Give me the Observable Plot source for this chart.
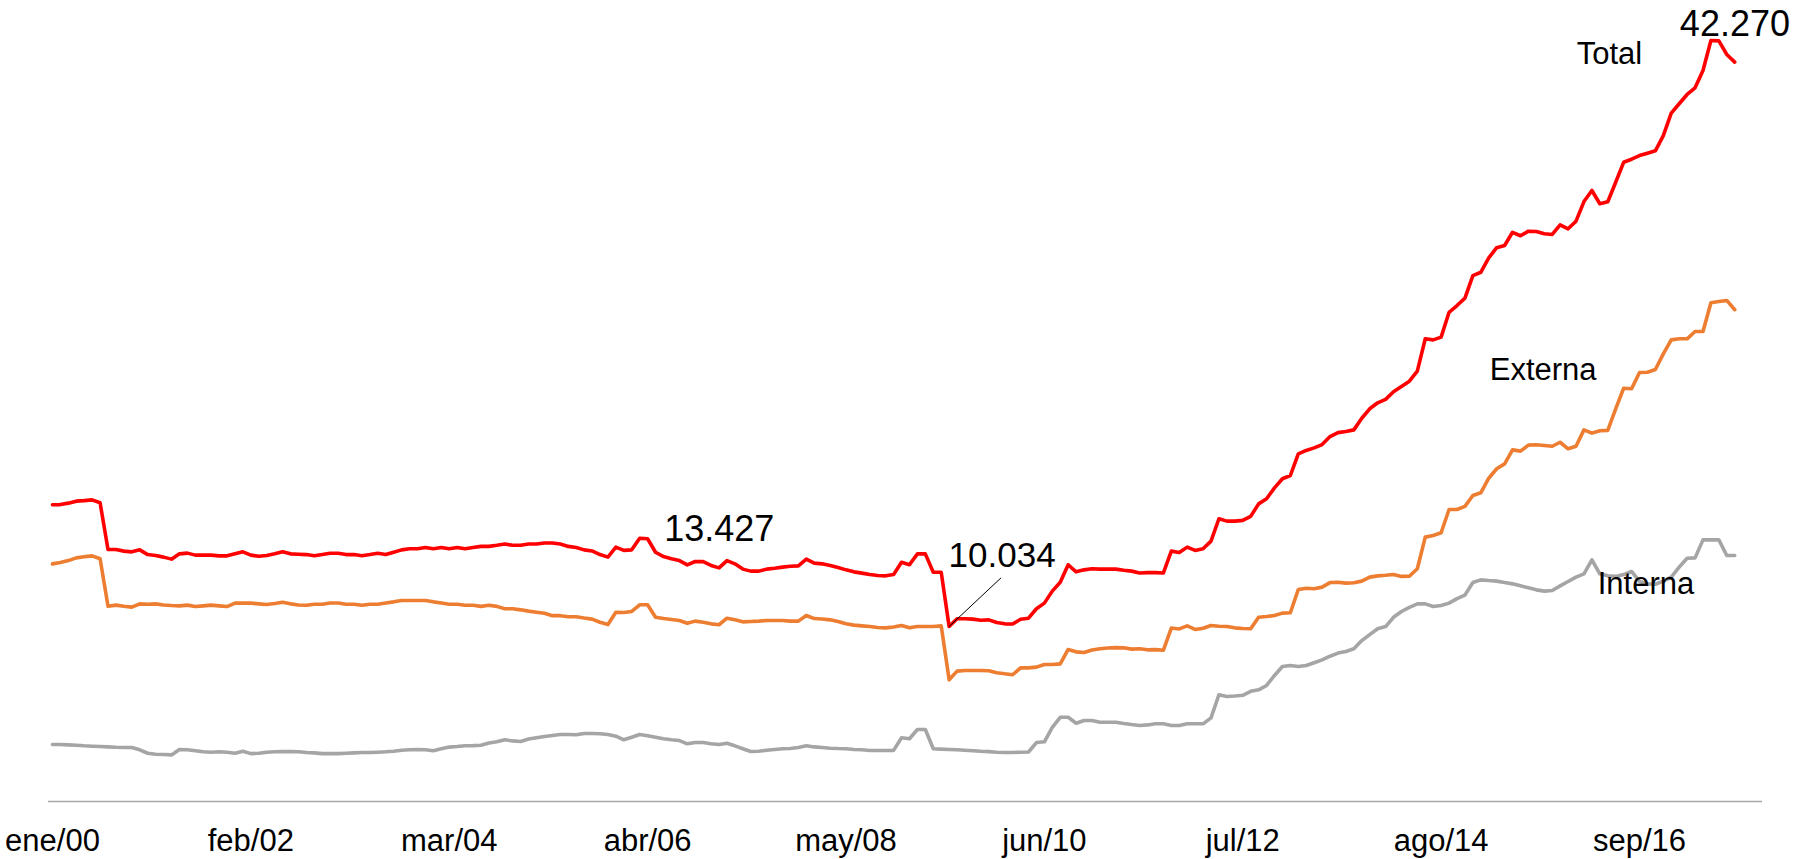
<!DOCTYPE html>
<html><head><meta charset="utf-8">
<script src="https://cdn.jsdelivr.net/npm/d3@7"></script>
<script src="https://cdn.jsdelivr.net/npm/@observablehq/plot@0.6"></script>
<style>html,body{margin:0;padding:0;background:#fff;overflow:hidden}</style>
</head><body><div id="chart"></div>
<script>
// Monthly values, ene/00 .. sep/17 (thousands of millions)
const total = [
16.73,16.74,16.82,16.93,16.96,17.00,16.84,14.27,14.27,14.18,14.14,14.25,13.99,13.94,13.85,13.74,14.03,14.07,13.96,13.96,
13.96,13.92,13.92,14.03,14.14,13.96,13.90,13.94,14.03,14.14,14.03,14.01,13.99,13.93,13.99,14.06,14.06,13.99,13.99,13.93,
13.99,14.06,13.99,14.12,14.25,14.31,14.31,14.38,14.31,14.38,14.31,14.38,14.31,14.38,14.44,14.44,14.50,14.57,14.50,14.50,
14.57,14.57,14.63,14.63,14.57,14.44,14.38,14.25,14.19,13.99,13.85,14.40,14.22,14.25,14.89,14.86,14.12,13.88,13.76,13.66,
13.427,13.61,13.60,13.39,13.26,13.66,13.48,13.19,13.08,13.08,13.19,13.24,13.30,13.35,13.37,13.74,13.52,13.48,13.39,13.28,
13.15,13.04,12.97,12.89,12.84,12.82,12.90,13.57,13.43,14.03,14.03,13.02,13.02,10.034,10.46,10.46,10.44,10.38,10.40,10.25,
10.18,10.17,10.43,10.49,11.01,11.32,11.98,12.47,13.43,13.04,13.15,13.21,13.19,13.19,13.19,13.13,13.08,12.98,13.00,13.00,
12.98,14.18,14.10,14.40,14.22,14.31,14.73,15.96,15.83,15.83,15.87,16.09,16.78,17.06,17.66,18.16,18.34,19.53,19.72,19.86,
20.04,20.48,20.70,20.76,20.85,21.49,22.01,22.34,22.53,22.95,23.24,23.53,24.08,25.86,25.80,25.95,27.32,27.69,28.10,29.34,
29.52,30.31,30.87,30.99,31.72,31.53,31.78,31.76,31.64,31.60,32.13,31.91,32.33,33.41,34.02,33.29,33.40,34.47,35.57,35.74,
35.94,36.07,36.20,37.04,38.27,38.79,39.30,39.67,40.62,42.27,42.25,41.50,41.08
];
const externa = [
13.48,13.55,13.66,13.81,13.87,13.92,13.76,11.15,11.21,11.15,11.10,11.28,11.26,11.28,11.22,11.19,11.17,11.21,11.13,11.17,
11.21,11.17,11.13,11.32,11.33,11.32,11.28,11.24,11.30,11.37,11.28,11.22,11.20,11.26,11.26,11.33,11.33,11.26,11.26,11.20,
11.26,11.26,11.33,11.39,11.46,11.46,11.46,11.46,11.39,11.33,11.26,11.26,11.20,11.20,11.14,11.20,11.14,11.01,11.01,10.95,
10.88,10.82,10.76,10.63,10.63,10.57,10.57,10.50,10.44,10.27,10.14,10.82,10.80,10.86,11.23,11.23,10.54,10.47,10.42,10.36,
10.21,10.33,10.27,10.18,10.13,10.49,10.40,10.29,10.31,10.33,10.36,10.36,10.36,10.33,10.33,10.64,10.47,10.45,10.40,10.31,
10.18,10.11,10.07,10.03,9.98,9.96,10.01,10.09,9.96,10.03,10.03,10.03,10.07,7.10,7.58,7.61,7.61,7.61,7.60,7.49,
7.43,7.38,7.76,7.76,7.80,7.94,7.94,7.98,8.77,8.64,8.60,8.74,8.81,8.85,8.87,8.86,8.79,8.81,8.75,8.76,
8.73,9.95,9.90,10.07,9.87,9.94,10.09,10.05,10.03,9.96,9.92,9.91,10.54,10.58,10.64,10.77,10.79,12.07,12.14,12.11,
12.20,12.45,12.47,12.42,12.44,12.53,12.75,12.82,12.85,12.89,12.79,12.80,13.21,14.95,15.04,15.19,16.47,16.47,16.64,17.24,
17.39,18.19,18.71,18.98,19.75,19.68,20.01,20.03,19.99,19.95,20.17,19.81,19.95,20.85,20.67,20.80,20.82,22.01,23.14,23.11,
24.01,24.02,24.17,25.03,25.80,25.86,25.86,26.26,26.26,27.84,27.91,27.97,27.46
];
const interna = [
3.54,3.54,3.52,3.50,3.47,3.45,3.43,3.41,3.39,3.38,3.38,3.25,3.06,3.01,2.99,2.97,3.27,3.25,3.20,3.14,
3.12,3.14,3.12,3.06,3.17,3.04,3.06,3.12,3.14,3.15,3.15,3.14,3.10,3.08,3.04,3.04,3.04,3.06,3.08,3.10,
3.10,3.12,3.14,3.17,3.23,3.25,3.27,3.25,3.20,3.31,3.40,3.43,3.47,3.48,3.50,3.63,3.69,3.80,3.74,3.71,
3.84,3.91,3.98,4.04,4.09,4.09,4.08,4.15,4.15,4.13,4.09,4.00,3.80,3.94,4.09,4.02,3.94,3.86,3.80,3.76,
3.58,3.65,3.65,3.58,3.54,3.61,3.47,3.31,3.16,3.17,3.23,3.27,3.31,3.32,3.38,3.47,3.41,3.38,3.34,3.32,
3.31,3.27,3.25,3.21,3.21,3.21,3.22,3.91,3.86,4.37,4.37,3.31,3.29,3.27,3.25,3.23,3.20,3.17,3.15,3.12,
3.10,3.10,3.12,3.13,3.65,3.69,4.49,5.04,5.04,4.71,4.86,4.86,4.77,4.77,4.77,4.70,4.64,4.59,4.62,4.68,
4.68,4.59,4.59,4.68,4.68,4.68,5.01,6.28,6.18,6.21,6.25,6.47,6.55,6.79,7.34,7.83,7.89,7.83,7.89,8.04,
8.20,8.40,8.57,8.66,8.81,9.26,9.59,9.91,10.03,10.54,10.86,11.09,11.28,11.28,11.13,11.19,11.32,11.57,11.76,12.45,
12.60,12.56,12.53,12.45,12.38,12.27,12.16,12.05,11.98,12.01,12.27,12.51,12.75,12.93,13.70,12.93,12.82,12.79,12.89,13.06,
12.51,12.38,12.36,12.53,12.75,13.30,13.79,13.81,14.80,14.80,14.80,13.94,13.94
];
const seriesNames = ["Total", "Externa", "Interna"];
const seriesColors = ["#FF0000", "#ED7D31", "#A5A5A5"];
const tickIndex = [0, 25, 50, 75, 100, 125, 150, 175, 200];
const tickLabels = ["ene/00", "feb/02", "mar/04", "abr/06", "may/08", "jun/10", "jul/12", "ago/14", "sep/16"];
const nCategories = 216;          // ene/00 .. dic/17
const labeledPoints = [80, 113, 209];

const seriesArrays = [total, externa, interna];
const rows = [];
seriesArrays.forEach((arr, s) => arr.forEach((v, i) => rows.push({serie: seriesNames[s], i, v})));
const pt = (arr, i) => ({i, v: arr[i]});
const fmt = (v) => d3.format(",.0f")(v * 1000).replace(/,/g, ".");
const yMin = 0.407, yMax = 44.47;
const font = '"Liberation Sans", Arial, Helvetica, sans-serif';
const last = total.length - 1;

const chart = Plot.plot({
  width: 1810, height: 859,
  marginLeft: 48, marginRight: 48, marginTop: 0, marginBottom: 58,
  style: {fontFamily: font, fontSize: "31px", color: "#000", background: "#fff", overflow: "visible"},
  x: {domain: [-0.5, nCategories - 0.5], ticks: tickIndex,
      tickFormat: (d) => tickLabels[tickIndex.indexOf(d)], tickSize: 0, tickPadding: 27, label: null},
  y: {domain: [yMin, yMax], axis: null},
  color: {domain: seriesNames, range: seriesColors},
  marks: [
    Plot.ruleY([yMin], {stroke: "#a6a6a6", strokeWidth: 1.5}),
    Plot.line(rows, {x: "i", y: "v", z: "serie", stroke: "serie", strokeWidth: 3.6,
      strokeLinejoin: "round", strokeLinecap: "round"}),
    // value annotations
    Plot.text([pt(total, labeledPoints[2])], {x: "i", y: "v", text: d => fmt(d.v), fontSize: 36,
      textAnchor: "middle", lineAnchor: "top", dx: 24, dy: -30, fill: "#000"}),
    Plot.text([pt(total, labeledPoints[0])], {x: "i", y: "v", text: d => fmt(d.v), fontSize: 36,
      textAnchor: "middle", lineAnchor: "top", dx: 32, dy: -49, fill: "#000"}),
    Plot.text([pt(total, labeledPoints[1])], {x: "i", y: "v", text: d => fmt(d.v), fontSize: 35,
      textAnchor: "middle", lineAnchor: "top", dx: 53, dy: -84, fill: "#000"}),
    Plot.link([pt(total, labeledPoints[1])], {x1: "i", y1: "v", x2: d => d.i + 6.55, y2: d => d.v + 2.68,
      stroke: "#000", strokeWidth: 1}),
    // series labels
    Plot.text([pt(total, last)], {x: "i", y: "v", text: () => seriesNames[0], fontSize: 31,
      textAnchor: "start", lineAnchor: "top", dx: -158, dy: -20, fill: "#000"}),
    Plot.text([pt(externa, last)], {x: "i", y: "v", text: () => seriesNames[1], fontSize: 31,
      textAnchor: "start", lineAnchor: "top", dx: -245, dy: 48.5, fill: "#000"}),
    Plot.text([pt(interna, last)], {x: "i", y: "v", text: () => seriesNames[2], fontSize: 31,
      textAnchor: "start", lineAnchor: "top", dx: -137, dy: 16.7, fill: "#000"})
  ]
});
document.getElementById("chart").appendChild(chart);
</script>
</body></html>
